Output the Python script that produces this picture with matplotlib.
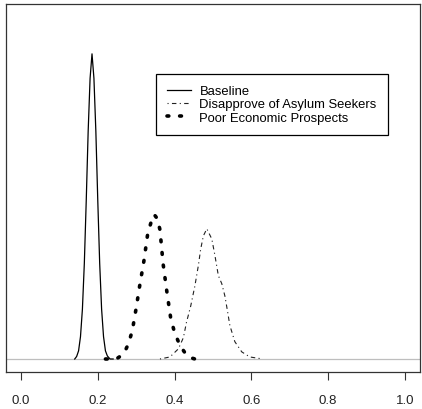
import matplotlib
matplotlib.use("Agg")
import matplotlib.pyplot as plt

plt.rcParams['font.family'] = ['Liberation Sans', 'DejaVu Sans']

# Density curves
base_x = [0.140, 0.145, 0.150, 0.155, 0.160, 0.165, 0.170, 0.175, 0.180, 0.185,
          0.190, 0.195, 0.200, 0.205, 0.210, 0.215, 0.220, 0.225, 0.232, 0.240]
base_y = [0.0, 0.25, 0.8, 2.2, 4.9, 9.4, 15.6, 22.4, 27.6, 30.0,
          27.6, 22.4, 15.6, 9.4, 4.9, 2.2, 0.8, 0.3, 0.0, 0.0]

dis_x = [0.362, 0.388, 0.410, 0.423, 0.431, 0.442, 0.453, 0.462, 0.468, 0.475,
         0.484, 0.497, 0.505, 0.514, 0.523, 0.531, 0.537, 0.544, 0.557, 0.575,
         0.596, 0.630]
dis_y = [0.0, 0.2, 1.0, 2.1, 3.6, 5.2, 7.2, 9.2, 10.8, 12.1,
         12.8, 11.8, 10.2, 8.2, 7.4, 6.2, 4.9, 3.3, 1.7, 0.7,
         0.2, 0.0]

poor_x = [0.220, 0.235, 0.250, 0.260, 0.270, 0.280, 0.290, 0.300, 0.310, 0.320,
          0.330, 0.340, 0.347, 0.355, 0.362, 0.370, 0.380, 0.390, 0.400, 0.410,
          0.420, 0.430, 0.440, 0.453]
poor_y = [0.0, 0.0, 0.05, 0.3, 0.7, 1.5, 2.8, 5.0, 7.4, 9.6,
          12.3, 13.6, 14.2, 13.8, 12.7, 9.4, 6.6, 4.0, 2.6, 1.7,
          1.0, 0.45, 0.15, 0.0]

labels = ["Baseline", "Disapprove of Asylum Seekers", "Poor Economic Prospects"]
xticks = [0.0, 0.2, 0.4, 0.6, 0.8, 1.0]

fig = plt.figure(figsize=(4.22, 4.10), dpi=100)
ax = fig.add_axes([0.0133, 0.0902, 0.9827, 0.8976])

ax.axhline(0, color='#bebebe', lw=0.9, zorder=1)
ax.plot(base_x, base_y, color='black', lw=0.9, label=labels[0])
ax.plot(dis_x, dis_y, color='#222222', lw=0.8, linestyle=(0, (1, 3, 4, 3)), label=labels[1])
ax.plot(poor_x, poor_y, color='black', lw=2.6, linestyle=(0, (0.5, 3.0)),
        dash_capstyle='round', label=labels[2])

ax.set_xlim(-0.04, 1.04)
ax.set_ylim(-1.28, 34.9)
ax.set_xticks(xticks)
ax.set_xticklabels(["%.1f" % t for t in xticks], fontsize=9.5, color='#222222')
ax.set_yticks([])
ax.tick_params(axis='x', direction='out', length=5.8, width=0.8, pad=10, color='#333333')
for s in ax.spines.values():
    s.set_linewidth(0.9)
    s.set_color('#333333')

leg = ax.legend(loc='upper left', bbox_to_anchor=(0.3627, 0.8098), borderaxespad=0,
                fontsize=9.4, frameon=True, fancybox=False, framealpha=1,
                edgecolor='black', handlelength=1.8, handletextpad=0.68,
                borderpad=0.85, labelspacing=0.08)
leg.get_frame().set_linewidth(0.9)

fig.savefig("out.png", dpi=100)
